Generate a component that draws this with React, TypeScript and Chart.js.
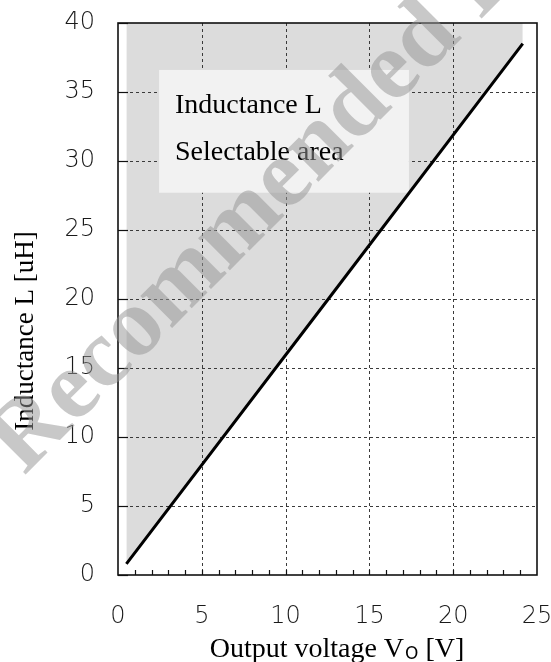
import React, { useEffect, useRef } from "react";
import { Chart, registerables } from "chart.js";

Chart.register(...registerables);

// ---- data ----
const voltage = [0.5, 12.3, 24.15];
const inductance = [0.8, 19.6, 38.5];
const xTickValues = [0, 5, 10, 15, 20, 25];
const yTickValues = [0, 5, 10, 15, 20, 25, 30, 35, 40];
const boxLines = ["Inductance L", "Selectable area"];
const xTitleMain = "Output voltage V";
const xTitleSub = "O";
const xTitleTail = " [V]";
const yTitle = "Inductance L [uH]";
const watermark = "Recommended Product";

const SERIF = '"Liberation Serif", "Times New Roman", serif';
const SANS = '"DejaVu Sans", sans-serif';

const decor = {
  id: "decor",
  afterDatasetDraw(chart: any, args: any) {
    if (args.index !== 0) return;
    const { ctx, chartArea: ca, scales } = chart;
    const x = scales.x;
    const y = scales.y;
    ctx.save();
    // dashed grid
    ctx.strokeStyle = "#3a3a3a";
    ctx.lineWidth = 1;
    ctx.setLineDash([3, 3]);
    for (const v of xTickValues) {
      if (v === 0 || v === 25) continue;
      const px = Math.round(x.getPixelForValue(v)) + 0.5;
      ctx.beginPath();
      ctx.moveTo(px, ca.top);
      ctx.lineTo(px, ca.bottom);
      ctx.stroke();
    }
    for (const v of yTickValues) {
      if (v === 0 || v === 40) continue;
      const py = Math.round(y.getPixelForValue(v)) + 0.5;
      ctx.beginPath();
      ctx.moveTo(ca.left, py);
      ctx.lineTo(ca.right, py);
      ctx.stroke();
    }
    ctx.setLineDash([]);

    // label box
    const bx0 = x.getPixelForValue(2.45);
    const bx1 = x.getPixelForValue(17.36);
    const by0 = y.getPixelForValue(36.6);
    const by1 = y.getPixelForValue(27.7);
    ctx.fillStyle = "#f2f2f2";
    ctx.fillRect(bx0, by0, bx1 - bx0, by1 - by0);
    ctx.fillStyle = "#000";
    ctx.font = `28px ${SERIF}`;
    ctx.textAlign = "left";
    ctx.textBaseline = "alphabetic";
    ctx.fillText(boxLines[0], x.getPixelForValue(3.4), y.getPixelForValue(33.5));
    ctx.fillText(boxLines[1], x.getPixelForValue(3.4), y.getPixelForValue(30.1));

    // y major ticks (inside)
    ctx.strokeStyle = "#111";
    ctx.lineWidth = 1.2;
    for (const v of yTickValues) {
      const py = Math.round(y.getPixelForValue(v)) + 0.5;
      ctx.beginPath();
      ctx.moveTo(ca.left, py);
      ctx.lineTo(ca.left + 10, py);
      ctx.stroke();
    }
    // x minor ticks (inside)
    for (let v = 1; v < 25; v++) {
      const px = Math.round(x.getPixelForValue(v)) + 0.5;
      ctx.beginPath();
      ctx.moveTo(px, ca.bottom);
      ctx.lineTo(px, ca.bottom - 5);
      ctx.stroke();
    }
    // frame
    ctx.strokeStyle = "#111";
    ctx.lineWidth = 1.6;
    ctx.strokeRect(ca.left, ca.top, ca.right - ca.left, ca.bottom - ca.top);
    ctx.restore();
  },
  afterDraw(chart: any) {
    const { ctx } = chart;
    ctx.save();
    // y title
    ctx.save();
    ctx.translate(33, 331);
    ctx.rotate(-Math.PI / 2);
    ctx.fillStyle = "#000";
    ctx.font = `27px ${SERIF}`;
    ctx.textAlign = "center";
    ctx.textBaseline = "alphabetic";
    ctx.fillText(yTitle, 0, 0);
    ctx.restore();

    // x title with subscript
    ctx.fillStyle = "#000";
    ctx.textBaseline = "alphabetic";
    ctx.textAlign = "left";
    const mainFont = `28px ${SERIF}`;
    const subFont = `17px ${SANS}`;
    ctx.font = mainFont;
    const w1 = ctx.measureText(xTitleMain).width;
    const w3 = ctx.measureText(xTitleTail).width;
    ctx.font = subFont;
    const w2 = ctx.measureText(xTitleSub).width + 1;
    const total = w1 + w2 + w3;
    let sx = 337 - total / 2;
    const base = 657;
    ctx.font = mainFont;
    ctx.fillText(xTitleMain, sx, base);
    sx += w1;
    ctx.font = subFont;
    ctx.fillText(xTitleSub, sx + 1, base + 2);
    sx += w2;
    ctx.font = mainFont;
    ctx.fillText(xTitleTail, sx, base);

    // watermark
    ctx.translate(24, 476);
    ctx.rotate(-Math.PI / 4);
    ctx.font = `bold 98px ${SERIF}`;
    ctx.fillStyle = "rgba(150,150,150,0.52)";
    ctx.fillText(watermark, 0, 0);
    ctx.restore();
  },
};

export default function App() {
  const ref = useRef<HTMLCanvasElement | null>(null);
  useEffect(() => {
    if (!ref.current) return;
    const points = voltage.map((v, i) => ({ x: v, y: inductance[i] }));
    const tickFont = { family: SANS, size: 24, weight: "200" as any };
    const chart = new Chart(ref.current, {
      type: "line",
      data: {
        datasets: [
          {
            data: points,
            borderWidth: 0,
            borderColor: "rgba(0,0,0,0)",
            backgroundColor: "#dcdcdc",
            fill: "end",
            pointRadius: 0,
            order: 2,
          },
          {
            data: points,
            borderWidth: 3,
            borderColor: "#000",
            fill: false,
            pointRadius: 0,
            order: 1,
          },
        ],
      },
      options: {
        animation: false,
        responsive: true,
        maintainAspectRatio: false,
        layout: { padding: { top: 23, right: 14, left: 0, bottom: 0 } },
        plugins: { legend: { display: false }, tooltip: { enabled: false } },
        scales: {
          x: {
            type: "linear",
            min: 0,
            max: 25,
            grid: { display: false, drawTicks: false },
            border: { display: false },
            ticks: {
              stepSize: 5,
              color: "#1a1a1a",
              font: tickFont,
              padding: 27,
              maxRotation: 0,
            },
            afterFit: (s: any) => {
              s.height = 87;
              s.paddingRight = 0;
              s.paddingLeft = 0;
            },
          },
          y: {
            type: "linear",
            min: 0,
            max: 40,
            grid: { display: false, drawTicks: false },
            border: { display: false },
            ticks: {
              stepSize: 5,
              color: "#1a1a1a",
              font: tickFont,
              padding: 23,
            },
            afterFit: (s: any) => {
              s.width = 118;
              s.paddingTop = 0;
              s.paddingBottom = 0;
            },
          },
        },
      },
      plugins: [decor],
    });
    return () => chart.destroy();
  }, []);
  return (
    <div style={{ position: "absolute", left: 0, top: 0, width: 551, height: 662 }}>
      <canvas ref={ref} />
    </div>
  );
}
